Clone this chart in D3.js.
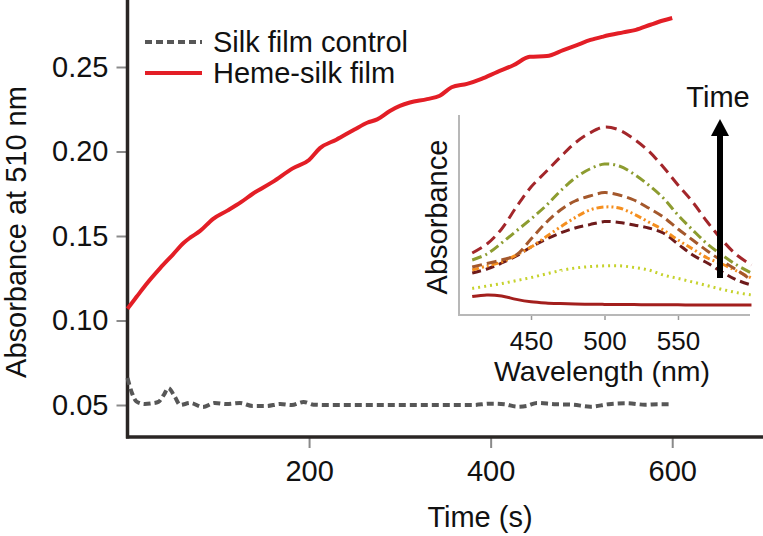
<!DOCTYPE html>
<html>
<head>
<meta charset="utf-8">
<script src="https://cdn.jsdelivr.net/npm/d3@7"></script>
<style>
  body { margin: 0; background: #fff; }
  svg text { font-family: "Liberation Sans", Arial, Helvetica, sans-serif; }
</style>
</head>
<body>
<div id="vis"></div>
<script>
// main chart data: absorbance at 510 nm vs time
const hemeTime = [0, 10, 20, 36, 50, 62, 69, 80, 94, 110, 125, 138, 160, 182, 200, 212, 230, 250, 264, 275, 289, 300, 311, 330, 344, 357, 374, 390, 407, 425, 443, 462, 480, 495, 510, 524, 546, 560, 576, 590, 600];
const hemeAbs = [0.107, 0.114, 0.121, 0.131, 0.139, 0.146, 0.149, 0.153, 0.160, 0.165, 0.170, 0.175, 0.182, 0.190, 0.195, 0.202, 0.207, 0.213, 0.217, 0.219, 0.224, 0.227, 0.229, 0.231, 0.233, 0.238, 0.240, 0.243, 0.247, 0.251, 0.256, 0.2565, 0.260, 0.263, 0.266, 0.268, 0.2705, 0.272, 0.275, 0.2775, 0.279];

const controlTime = [0, 5, 10, 19, 27, 34, 40, 45, 52, 58, 69, 83, 96, 109, 124, 138, 153, 168, 181, 194, 205, 220, 260, 300, 340, 380, 400, 415, 429, 440, 451, 470, 490, 510, 530, 550, 570, 585, 596];
const controlAbs = [0.066, 0.057, 0.052, 0.0506, 0.051, 0.0518, 0.056, 0.060, 0.055, 0.050, 0.0512, 0.0488, 0.0512, 0.0506, 0.0512, 0.0494, 0.0494, 0.0506, 0.050, 0.0518, 0.0502, 0.050, 0.050, 0.050, 0.050, 0.050, 0.0508, 0.0505, 0.049, 0.0495, 0.0512, 0.0505, 0.0502, 0.049, 0.0505, 0.051, 0.0502, 0.0505, 0.0505];

const yTicks = [0.05, 0.10, 0.15, 0.20, 0.25];
const xTicks = [200, 400, 600];
const legendLabels = ["Silk film control", "Heme-silk film"];

// inset: spectra over time (arbitrary absorbance units)
const wavelengths = [410, 420, 430, 440, 450, 460, 470, 480, 490, 500, 510, 520, 530, 540, 550, 560, 570, 580, 590, 600];
const spec1 = [0.31, 0.355, 0.43, 0.54, 0.64, 0.715, 0.79, 0.86, 0.91, 0.94, 0.925, 0.88, 0.82, 0.74, 0.65, 0.565, 0.465, 0.375, 0.30, 0.25];
const spec2 = [0.275, 0.305, 0.36, 0.42, 0.48, 0.545, 0.62, 0.685, 0.73, 0.755, 0.745, 0.705, 0.65, 0.585, 0.50, 0.425, 0.355, 0.30, 0.25, 0.21];
const spec3 = [0.24, 0.258, 0.275, 0.30, 0.38, 0.46, 0.525, 0.57, 0.595, 0.612, 0.60, 0.575, 0.535, 0.49, 0.43, 0.375, 0.32, 0.27, 0.225, 0.175];
const spec4 = [0.225, 0.245, 0.265, 0.30, 0.34, 0.39, 0.44, 0.487, 0.525, 0.54, 0.535, 0.505, 0.465, 0.425, 0.375, 0.33, 0.285, 0.255, 0.22, 0.185];
const spec5 = [0.21, 0.23, 0.26, 0.295, 0.34, 0.378, 0.41, 0.435, 0.452, 0.467, 0.463, 0.45, 0.435, 0.41, 0.355, 0.30, 0.26, 0.215, 0.175, 0.15];
const spec6 = [0.133, 0.145, 0.157, 0.172, 0.187, 0.205, 0.222, 0.235, 0.242, 0.246, 0.246, 0.238, 0.225, 0.20, 0.183, 0.165, 0.147, 0.128, 0.112, 0.10];
const spec7 = [0.092, 0.10, 0.095, 0.078, 0.066, 0.06, 0.057, 0.055, 0.054, 0.053, 0.052, 0.052, 0.051, 0.051, 0.051, 0.05, 0.05, 0.05, 0.05, 0.05];
const insetTicks = [450, 500, 550];

const width = 763;
const height = 536;
const fontSize = 29;

const svg = d3.create("svg")
    .attr("width", width)
    .attr("height", height);

// scales
const x = d3.scaleLinear().domain([0, 700]).range([127.5, 763]);
const y = d3.scaleLinear().domain([0, 0.3]).range([489.5, -17.5]);
const axisBottomY = 437;

// y axis ticks + labels
const yAxis = svg.append("g")
    .attr("transform", `translate(${x(0)},0)`)
    .call(d3.axisLeft(y).tickValues(yTicks).tickFormat(d3.format(".2f")).tickSize(11).tickPadding(8));
yAxis.select(".domain").remove();
yAxis.selectAll("line").attr("stroke", "#8a8a8a").attr("stroke-width", 2);
yAxis.selectAll("text").attr("font-size", fontSize).attr("fill", "#111")
    .attr("font-family", '"Liberation Sans", Arial, sans-serif');

// x axis ticks + labels
const xAxis = svg.append("g")
    .attr("transform", `translate(0,${axisBottomY})`)
    .call(d3.axisBottom(x).tickValues(xTicks).tickSize(11).tickPadding(12));
xAxis.select(".domain").remove();
xAxis.selectAll("line").attr("stroke", "#8a8a8a").attr("stroke-width", 2);
xAxis.selectAll("text").attr("font-size", fontSize).attr("fill", "#111")
    .attr("font-family", '"Liberation Sans", Arial, sans-serif');

// axis lines
svg.append("line")
    .attr("x1", x(0)).attr("x2", x(0))
    .attr("y1", 0).attr("y2", axisBottomY + 1.5)
    .attr("stroke", "#2a2624").attr("stroke-width", 3.5);
svg.append("line")
    .attr("x1", x(0) - 1.5).attr("x2", width)
    .attr("y1", axisBottomY).attr("y2", axisBottomY)
    .attr("stroke", "#2a2624").attr("stroke-width", 3.5);

// axis titles
svg.append("text")
    .attr("x", 480).attr("y", 527)
    .attr("text-anchor", "middle")
    .attr("font-size", fontSize).attr("fill", "#111")
    .text("Time (s)");
svg.append("text")
    .attr("transform", "translate(26,232) rotate(-90)")
    .attr("text-anchor", "middle")
    .attr("font-size", fontSize).attr("fill", "#111")
    .text("Absorbance at 510 nm");

// lines
const mainLine = d3.line().x(d => x(d[0])).y(d => y(d[1])).curve(d3.curveMonotoneX);

svg.append("path")
    .datum(controlTime.map((t, i) => [t, controlAbs[i]]))
    .attr("d", mainLine)
    .attr("fill", "none")
    .attr("stroke", "#575757")
    .attr("stroke-width", 4)
    .attr("stroke-dasharray", "7,4");

svg.append("path")
    .datum(hemeTime.map((t, i) => [t, hemeAbs[i]]))
    .attr("d", mainLine)
    .attr("fill", "none")
    .attr("stroke", "#e31e26")
    .attr("stroke-width", 4)
    .attr("stroke-linejoin", "round");

// legend
const legend = svg.append("g");
const legendStyles = [
    {color: "#575757", dash: "7,4"},
    {color: "#e31e26", dash: null}
];
legendLabels.forEach((label, i) => {
    const ly = 42 + i * 31;
    legend.append("line")
        .attr("x1", 145).attr("x2", 202)
        .attr("y1", ly).attr("y2", ly)
        .attr("stroke", legendStyles[i].color)
        .attr("stroke-width", 4)
        .attr("stroke-dasharray", legendStyles[i].dash);
    legend.append("text")
        .attr("x", 213).attr("y", ly + 10)
        .attr("font-size", fontSize).attr("fill", "#111")
        .text(label);
});

// ---- inset ----
const ix = d3.scaleLinear().domain([401, 599]).range([459, 750]);
const iy = d3.scaleLinear().domain([0, 1]).range([315, 115]);

const inset = svg.append("g");

const insetAxis = inset.append("g")
    .attr("transform", "translate(0,315)")
    .call(d3.axisBottom(ix).tickValues(insetTicks).tickSize(5).tickPadding(12));
insetAxis.select(".domain").remove();
insetAxis.selectAll("line").attr("stroke", "#9a9a9a").attr("stroke-width", 1.5);
insetAxis.selectAll("text").attr("font-size", 26).attr("fill", "#111")
    .attr("font-family", '"Liberation Sans", Arial, sans-serif');

inset.append("path")
    .attr("d", `M${ix(401)},${iy(1)}V${iy(0)}H${ix(599)}`)
    .attr("fill", "none")
    .attr("stroke", "#b8b8b8")
    .attr("stroke-width", 2);

inset.append("text")
    .attr("x", 602).attr("y", 381)
    .attr("text-anchor", "middle")
    .attr("font-size", 28.5).attr("fill", "#111")
    .text("Wavelength (nm)");
inset.append("text")
    .attr("transform", "translate(447,217) rotate(-90)")
    .attr("text-anchor", "middle")
    .attr("font-size", fontSize).attr("fill", "#111")
    .text("Absorbance");

const spectra = [
    {values: spec7, color: "#a31f1d", dash: null},
    {values: spec6, color: "#c6d22c", dash: "2,4"},
    {values: spec5, color: "#6e1b1b", dash: "9,5"},
    {values: spec4, color: "#f58f1f", dash: "7,3,2,3,2,3"},
    {values: spec3, color: "#a4582c", dash: "10,5"},
    {values: spec2, color: "#8d9c30", dash: "10,4,2,4"},
    {values: spec1, color: "#a3262a", dash: "11,6"}
];

const specLine = d3.line().x(d => ix(d[0])).y(d => iy(d[1])).curve(d3.curveCatmullRom);

spectra.forEach(s => {
    inset.append("path")
        .datum(wavelengths.map((w, i) => [w, s.values[i]]))
        .attr("d", specLine)
        .attr("fill", "none")
        .attr("stroke", s.color)
        .attr("stroke-width", 3)
        .attr("stroke-dasharray", s.dash);
});

// time arrow
inset.append("line")
    .attr("x1", 720).attr("x2", 720)
    .attr("y1", 278).attr("y2", 132)
    .attr("stroke", "#000").attr("stroke-width", 6);
inset.append("path")
    .attr("d", "M720,119L729,136L711,136Z")
    .attr("fill", "#000");
inset.append("text")
    .attr("x", 718).attr("y", 107)
    .attr("text-anchor", "middle")
    .attr("font-size", fontSize).attr("fill", "#111")
    .text("Time");

document.getElementById("vis").appendChild(svg.node());
</script>
</body>
</html>
